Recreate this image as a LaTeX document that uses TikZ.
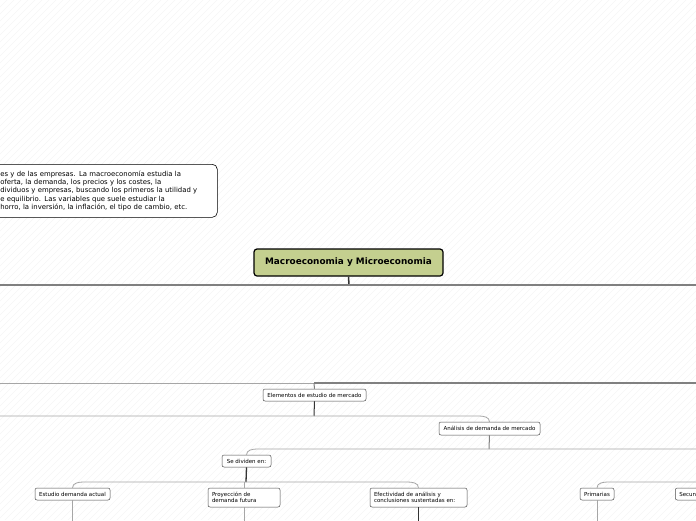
\documentclass[tikz,border=0pt]{standalone}
\usepackage{fontspec}
\setmainfont{DejaVu Sans}

\tikzset{
  mapbox/.style={draw=black!70, fill=white, rounded corners=2pt, line width=0.5pt,
    inner xsep=4pt, inner ysep=1pt, align=left, font=\fontsize{5.5}{6.5}\selectfont},
  lightline/.style={draw=black!35, line width=0.8pt},
  midline/.style={draw=black!50, line width=1pt},
  darkline/.style={draw=black!80, line width=1pt},
  hatch/.style={draw=black!6, line width=0.3pt}
}

\begin{document}
\begin{tikzpicture}[x=1pt,y=-1pt]
\useasboundingbox (0,0) rectangle (696,520);
\fill[white] (0,0) rectangle (696,520);

% background hatching
\begin{scope}
\clip (0,0) rectangle (696,520);
\foreach \k in {-520,-513,...,696}
  \draw[hatch] (\k,520) -- (\k+520,0);
\end{scope}

% note
\node[draw=black, fill=white, rounded corners=5pt, line width=0.6pt, anchor=north west,
  inner xsep=6pt, inner ysep=4pt, text width=211pt, minimum height=53pt, align=left,
  font=\fontsize{6.9}{8.3}\selectfont] (note) at (-6,164)
  {es y de las empresas. La macroeconomía estudia la\\
   oferta, la demanda, los precios y los costes, la\\
   dividuos y empresas, buscando los primeros la utilidad y\\
   e equilibrio. Las variables que suele estudiar la\\
   horro, la inversión, la inflación, el tipo de cambio, etc.};

% main topic
\node[draw=black, fill={rgb,255:red,196;green,207;blue,143}, rounded corners=3pt,
  line width=1.2pt, minimum width=189pt, minimum height=27pt,
  font=\fontsize{8.9}{10}\selectfont\bfseries] (main) at (348.5,262.5)
  {Macroeconomia y Microeconomia};
\coordinate (hubA) at (349,285);
\draw[darkline, line width=1.5pt] (main.south) -- (hubA);
\draw[midline, line width=2pt] (-5,285) -- (701,285);

% first level
\node[mapbox, minimum width=103pt, minimum height=12pt] (elem) at (314.5,395)
  {Elementos de estudio de mercado};
\coordinate (hubB) at (314,383);
\draw[lightline] (-5,383) -- (hubB);
\draw[midline, line width=1.3pt] (hubB) -- (701,383);
\draw[midline] (elem.north) -- (hubB);

\node[mapbox, minimum width=101pt, minimum height=13pt] (anal) at (489.5,428.5)
  {Análisis de demanda de mercado};
\coordinate (hubC) at (314,416);
\draw[darkline] (elem.south) -- (hubC);
\draw[lightline] (-5,416) -- (479,416) to[out=0,in=90] (anal.north);

% se dividen
\node[mapbox, minimum width=49pt, minimum height=12pt] (divid) at (246.5,461)
  {Se dividen en:};
\coordinate (hubD) at (489,449);
\draw[midline] (anal.south) -- (hubD);
\draw[lightline] (divid.north) to[out=90,in=180] (257,449) -- (701,449);

% second level
\node[mapbox, minimum width=75pt, minimum height=12pt] (estud) at (72.5,494)
  {Estudio demanda actual};
\node[mapbox, text width=64pt, minimum height=19pt] (proy) at (244,497.5)
  {Proyección de\\demanda futura};
\node[mapbox, text width=89pt, minimum height=19pt] (efect) at (418.5,497.5)
  {Efectividad de análisis y\\conclusiones sustentadas en:};
\coordinate (hubE) at (246,482);
\draw[darkline, line width=1.3pt] (divid.south) -- (hubE);
\draw[lightline] (estud.north) to[out=90,in=180] (84,482) -- (407,482)
  to[out=0,in=90] (efect.north);
\draw[lightline] (proy.north) -- (proy.north |- hubE);

\node[mapbox, minimum width=34pt, minimum height=12pt] (prim) at (597,494)
  {Primarias};
\node[mapbox, minimum height=12pt, anchor=west] (secun) at (675,494)
  {Secundarias};
\draw[lightline] (prim.north) to[out=90,in=180] (608,482) -- (701,482);

% lines going down
\draw[lightline] (estud.south) -- ++(0,30);
\draw[lightline] (proy.south) -- ++(0,30);
\draw[darkline, line width=1.3pt] (efect.south) -- ++(0,30);
\draw[lightline] (prim.south) -- ++(0,30);
\end{tikzpicture}
\end{document}
